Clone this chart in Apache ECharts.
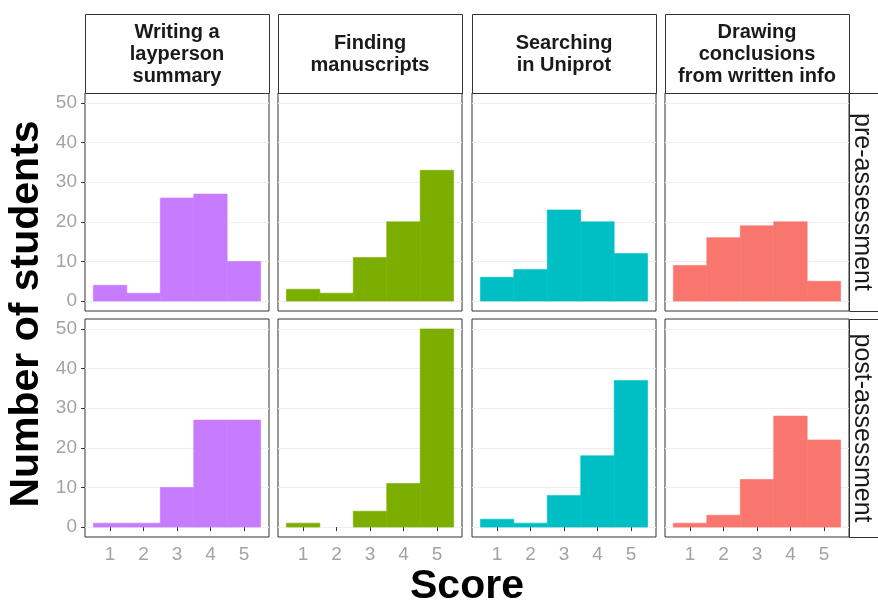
<!DOCTYPE html>
<html>
<head>
<meta charset="utf-8">
<script src="https://cdn.jsdelivr.net/npm/echarts@6/dist/echarts.min.js"></script>
<style>
html,body{margin:0;padding:0;background:#fff;}
#chart{width:878px;height:602px;}
</style>
</head>
<body>
<div id="chart"></div>
<script>
// ---- data ----
const skills = ['Writing a\nlayperson\nsummary', 'Finding\nmanuscripts', 'Searching\nin Uniprot', 'Drawing\nconclusions\nfrom written info'];
const phases = ['pre-assessment', 'post-assessment'];
const scores = [1, 2, 3, 4, 5];
const yTicks = [0, 10, 20, 30, 40, 50];
const colors = ['#C77CFF', '#7CAE00', '#00BFC4', '#F8766D'];

const preLayperson   = [4, 2, 26, 27, 10];
const preManuscripts = [3, 2, 11, 20, 33];
const preUniprot     = [6, 8, 23, 20, 12];
const preConclusions = [9, 16, 19, 20, 5];

const postLayperson   = [1, 1, 10, 27, 27];
const postManuscripts = [1, 0, 4, 11, 50];
const postUniprot     = [2, 1, 8, 18, 37];
const postConclusions = [1, 3, 12, 28, 22];

const counts = [
  [preLayperson, preManuscripts, preUniprot, preConclusions],
  [postLayperson, postManuscripts, postUniprot, postConclusions]
];

// ---- layout ----
const colLeft = [85, 278, 472, 665];
const colWidth = 184;
const rowTop = [93, 319];
const rowHeight = 218;
const stripTop = 14;
const stripRight = 849;

const grids = [], xAxes = [], yAxes = [], series = [], graphics = [];
let idx = 0;
for (let r = 0; r < 2; r++) {
  for (let c = 0; c < 4; c++) {
    grids.push({
      left: colLeft[c], top: rowTop[r], width: colWidth, height: rowHeight,
      show: true, borderColor: '#333333', borderWidth: 1, backgroundColor: '#fff'
    });
    xAxes.push({
      type: 'value', gridIndex: idx, min: 0.25, max: 5.75,
      axisLine: { show: false },
      axisTick: { show: r === 1, length: 4, lineStyle: { color: '#333333' }, customValues: scores },
      axisLabel: { show: r === 1, customValues: scores, color: '#A3A3A3', fontSize: 19, fontFamily: 'Liberation Sans', margin: 8 },
      splitLine: { show: false }
    });
    yAxes.push({
      type: 'value', gridIndex: idx, min: -2.5, max: 52.5,
      axisLine: { show: false },
      axisTick: { show: c === 0, length: 4, lineStyle: { color: '#333333' }, customValues: yTicks },
      axisLabel: { show: c === 0, customValues: yTicks, color: '#A3A3A3', fontSize: 19, fontFamily: 'Liberation Sans', margin: 8 },
      splitLine: { show: true, lineStyle: { color: '#EEEEEE', width: 1 } }
    });
    const vals = counts[r][c];
    const color = colors[c];
    series.push({
      type: 'custom', xAxisIndex: idx, yAxisIndex: idx,
      data: scores.map((s, i) => [s, vals[i]]),
      renderItem: function (params, api) {
        const x = api.value(0), y = api.value(1);
        const p0 = api.coord([x - 0.5, y]);
        const p1 = api.coord([x + 0.5, 0]);
        const style = y > 0 ? { fill: color, stroke: color, lineWidth: 0.6 } : { fill: color, lineWidth: 0 };
        return {
          type: 'rect',
          shape: { x: p0[0], y: p0[1], width: p1[0] - p0[0], height: p1[1] - p0[1] },
          style: style
        };
      },
      z: 2
    });
    idx++;
  }
}

// column strips
for (let c = 0; c < 4; c++) {
  graphics.push({
    type: 'rect', left: colLeft[c], top: stripTop,
    shape: { width: colWidth, height: rowTop[0] - stripTop },
    style: { fill: '#fff', stroke: '#333333', lineWidth: 1 }
  });
  graphics.push({
    type: 'text', x: colLeft[c] + colWidth / 2, y: stripTop + (rowTop[0] - stripTop) / 2 + 1,
    style: {
      text: skills[c], fill: '#1a1a1a', font: 'bold 20px "Liberation Sans", Arial, sans-serif',
      align: 'center', verticalAlign: 'middle', lineHeight: 22
    }
  });
}
// row strips
for (let r = 0; r < 2; r++) {
  graphics.push({
    type: 'rect', left: stripRight, top: rowTop[r],
    shape: { width: 40, height: rowHeight },
    style: { fill: '#fff', stroke: '#333333', lineWidth: 1 }
  });
  graphics.push({
    type: 'text', x: stripRight + 13, y: rowTop[r] + rowHeight / 2, rotation: -Math.PI / 2,
    style: {
      text: phases[r], fill: '#1a1a1a', font: '25px "Liberation Sans", Arial, sans-serif',
      align: 'center', verticalAlign: 'middle'
    }
  });
}
// axis titles
graphics.push({
  type: 'text', x: 27, y: 314, rotation: Math.PI / 2,
  style: { text: 'Number of students', fill: '#000', font: 'bold 41px "Liberation Sans", Arial, sans-serif', align: 'center', verticalAlign: 'middle' }
});
graphics.push({
  type: 'text', x: 467, y: 587,
  style: { text: 'Score', fill: '#000', font: 'bold 41px "Liberation Sans", Arial, sans-serif', align: 'center', verticalAlign: 'middle' }
});

const chart = echarts.init(document.getElementById('chart'), null, { renderer: 'canvas' });
chart.setOption({
  animation: false,
  backgroundColor: '#fff',
  grid: grids,
  xAxis: xAxes,
  yAxis: yAxes,
  series: series,
  graphic: graphics
});
</script>
</body>
</html>
